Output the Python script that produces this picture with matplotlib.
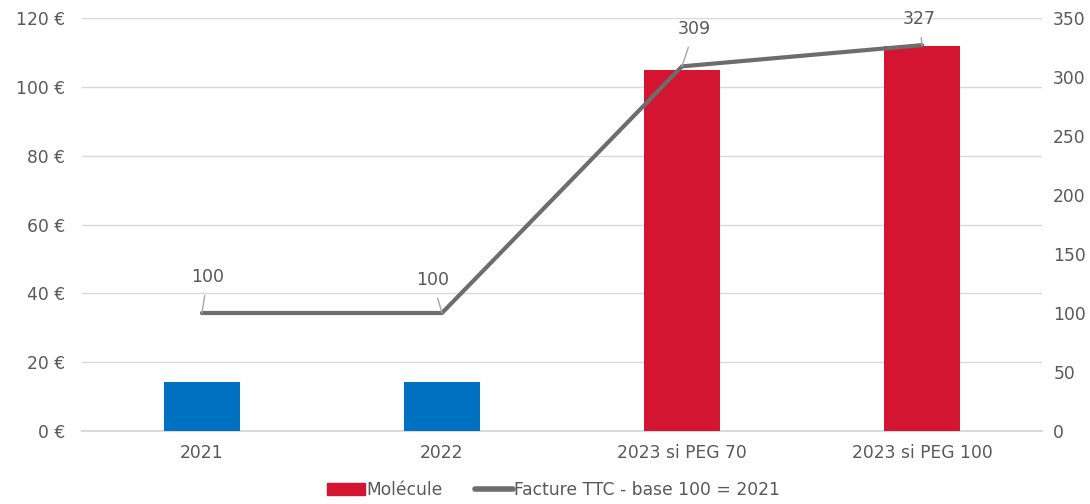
import matplotlib.pyplot as plt
from matplotlib.patches import Patch
from matplotlib.lines import Line2D

# Data
categories = ['2021', '2022', '2023 si PEG 70', '2023 si PEG 100']
molecule = [14.3, 14.3, 105, 112]
facture = [100, 100, 309, 327]
bar_colors = ['#0070C0', '#0070C0', '#D31531', '#D31531']

# label offsets (points) for the line data labels
label_offsets = [(4, 26), (-7, 24), (9, 27), (-2, 19)]

txt = '#595959'
grid = '#D9D9D9'
line_col = '#6D6D6D'
fs = 12.3

plt.rcParams['font.family'] = ['DejaVu Sans']

fig = plt.figure(figsize=(10.9, 5.04), dpi=100)
ax = fig.add_axes([0.0752, 0.1448, 0.8808, 0.8195])
ax2 = ax.twinx()

x = range(len(categories))
ax.bar(x, molecule, width=0.32, color=bar_colors, zorder=2)
ax.set_ylim(0, 120)
ax.set_yticks(range(0, 121, 20))
ax.set_yticklabels([f'{v} €' for v in range(0, 121, 20)])
ax.set_xlim(-0.5, len(categories) - 0.5)
ax.set_xticks(list(x))
ax.set_xticklabels(categories)
ax.grid(axis='y', color=grid, linewidth=1, zorder=0)
ax.axhline(0, color=grid, linewidth=1.5, zorder=1, clip_on=False)
ax.set_axisbelow(True)

ax2.plot(list(x), facture, color=line_col, linewidth=3, solid_capstyle='round', zorder=3)
ax2.set_ylim(0, 350)
ax2.set_yticks(range(0, 351, 50))

for xi, v, off in zip(x, facture, label_offsets):
    ax2.annotate(str(v), xy=(xi, v), xytext=off, textcoords='offset points',
                 ha='center', va='center', fontsize=12.5, color=txt,
                 arrowprops=dict(arrowstyle='-', color='#A6A6A6', lw=1,
                                 shrinkA=5, shrinkB=0))

for a in (ax, ax2):
    for s in a.spines.values():
        s.set_visible(False)
    a.tick_params(length=0, labelsize=fs, labelcolor=txt)
ax.tick_params(axis='x', pad=9)
ax.tick_params(axis='y', pad=12)
ax2.tick_params(axis='y', pad=8)

handles = [Patch(color='#D31531', label='Molécule'),
           Line2D([0], [0], color=line_col, linewidth=4, solid_capstyle='round',
                  label='Facture TTC - base 100 = 2021')]
fig.legend(handles=handles, loc='lower center', ncol=2, frameon=False,
           bbox_to_anchor=(0.508, -0.02), fontsize=fs, labelcolor=txt,
           handlelength=2.2, handletextpad=0.1, columnspacing=1.9)

fig.savefig('out.png', dpi=100)
